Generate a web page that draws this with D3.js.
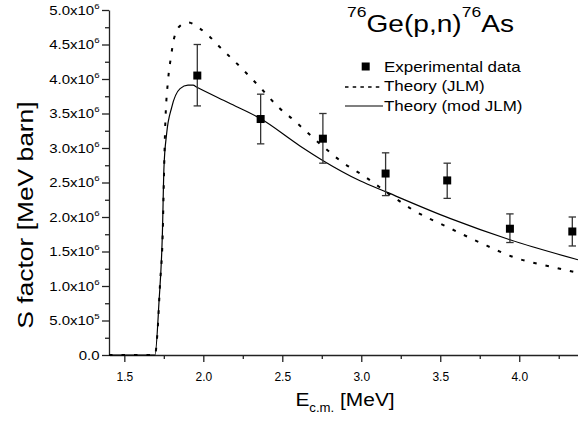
<!DOCTYPE html>
<html>
<head>
  <meta charset="utf-8">
  <title>76Ge(p,n)76As S factor</title>
  <script src="https://d3js.org/d3.v7.min.js"></script>
  <style>
    body { margin: 0; background: #fff; }
    text { font-family: "Liberation Sans", Arial, sans-serif; fill: #000; }
  </style>
</head>
<body>
  <svg id="chart" width="578" height="426"></svg>

  <script>
    // experimental points (E in MeV, S in MeV barn) with error bar ends
    const eExp = [1.962, 2.363, 2.757, 3.154, 3.544, 3.941, 4.336];
    const sExp = [4.05e6, 3.42e6, 3.135e6, 2.63e6, 2.53e6, 1.83e6, 1.79e6];
    const sExpHi = [4.50e6, 3.78e6, 3.50e6, 2.93e6, 2.78e6, 2.045e6, 2.0e6];
    const sExpLo = [3.61e6, 3.06e6, 2.78e6, 2.31e6, 2.27e6, 1.63e6, 1.58e6];

    // Theory (JLM) - dashed
    const eJLM = [1.403, 1.694, 1.709, 1.726, 1.743, 1.751, 1.758, 1.778, 1.794, 1.815, 1.853, 1.905, 1.979,
      2.042, 2.106, 2.169, 2.232, 2.296, 2.359, 2.422, 2.486, 2.559, 2.623, 2.749, 2.876, 3.013, 3.203,
      3.329, 3.541, 3.751, 3.962, 4.237, 4.372];
    const sJLM = [0, 0, 0.30e6, 1.03e6, 1.76e6, 2.6e6, 3.25e6, 4.01e6, 4.30e6, 4.59e6, 4.77e6, 4.82e6, 4.73e6,
      4.61e6, 4.46e6, 4.32e6, 4.18e6, 4.03e6, 3.88e6, 3.72e6, 3.57e6, 3.43e6, 3.30e6, 3.04e6, 2.80e6, 2.60e6, 2.29e6,
      2.10e6, 1.86e6, 1.63e6, 1.42e6, 1.26e6, 1.19e6];

    // Theory (mod JLM) - solid
    const eMod = [1.403, 1.694, 1.720, 1.741, 1.751, 1.768, 1.800, 1.853, 1.903, 1.935, 1.960, 2.160, 2.359,
      2.612, 2.756, 2.992, 3.161, 3.561, 3.941, 4.372];
    const sMod = [0, 0, 0.785e6, 1.76e6, 2.72e6, 3.21e6, 3.59e6, 3.86e6, 3.91e6, 3.91e6, 3.88e6, 3.655e6, 3.43e6,
      3.03e6, 2.82e6, 2.525e6, 2.36e6, 1.98e6, 1.67e6, 1.38e6];

    const xTicks = [1.5, 2.0, 2.5, 3.0, 3.5, 4.0];
    const xMinor = [1.75, 2.25, 2.75, 3.25, 3.75, 4.25];
    const yTicks = [0, 0.5e6, 1.0e6, 1.5e6, 2.0e6, 2.5e6, 3.0e6, 3.5e6, 4.0e6, 4.5e6, 5.0e6];
    const yMinor = [0.25e6, 0.75e6, 1.25e6, 1.75e6, 2.25e6, 2.75e6, 3.25e6, 3.75e6, 4.25e6, 4.75e6];

    const svg = d3.select("#chart");

    const x = d3.scaleLinear().domain([1.403, 4.372]).range([109, 578]);
    const y = d3.scaleLinear().domain([0, 5e6]).range([355, 10]);

    // tick label like 4.5x10^6
    function yLabel(sel) {
      sel.each(function (d) {
        const t = d3.select(this).text("");
        if (d === 0) { t.append("tspan").text("0.0"); return; }
        const exp = d >= 1e6 ? 6 : 5;
        t.append("tspan").text((d / Math.pow(10, exp)).toFixed(1) + "x10");
        t.append("tspan").attr("dy", -6).attr("font-size", 8).text(exp);
      });
    }

    // minor ticks
    svg.append("g")
      .attr("transform", "translate(0,355)")
      .call(d3.axisBottom(x).tickValues(xMinor).tickSize(4).tickFormat(""))
      .call(g => g.select(".domain").remove())
      .selectAll("line").attr("stroke", "#222").attr("stroke-width", 1.2);

    svg.append("g")
      .attr("transform", "translate(109,0)")
      .call(d3.axisLeft(y).tickValues(yMinor).tickSize(4).tickFormat(""))
      .call(g => g.select(".domain").remove())
      .selectAll("line").attr("stroke", "#222").attr("stroke-width", 1.2);

    // main axes
    const xAxis = svg.append("g")
      .attr("transform", "translate(0,355)")
      .call(d3.axisBottom(x).tickValues(xTicks).tickSize(7).tickPadding(10).tickSizeOuter(0)
        .tickFormat(d3.format(".1f")));
    xAxis.selectAll("text").attr("font-size", 12).attr("font-family", null);

    const yAxis = svg.append("g")
      .attr("transform", "translate(109,0)")
      .call(d3.axisLeft(y).tickValues(yTicks).tickSize(7).tickSizeOuter(0));
    yAxis.selectAll("text")
      .attr("font-size", 12.5).attr("font-family", null)
      .attr("x", -9.5 / 1.2)
      .attr("transform", "scale(1.2,1)")
      .call(yLabel);

    svg.selectAll(".domain, .tick line").attr("stroke", "#222").attr("stroke-width", 1.3);

    // curves
    const line = d3.line()
      .x(d => x(d[0]))
      .y(d => y(d[1]))
      .curve(d3.curveMonotoneX);

    svg.append("path")
      .attr("d", line(d3.zip(eJLM, sJLM)))
      .attr("fill", "none")
      .attr("stroke", "#000")
      .attr("stroke-width", 2)
      .attr("stroke-dasharray", "3.5,9");

    svg.append("path")
      .attr("d", line(d3.zip(eMod, sMod)))
      .attr("fill", "none")
      .attr("stroke", "#000")
      .attr("stroke-width", 1.2);

    // experimental data with error bars
    const pts = svg.append("g").selectAll("g")
      .data(d3.range(eExp.length))
      .enter().append("g");

    pts.append("line")
      .attr("x1", i => x(eExp[i])).attr("x2", i => x(eExp[i]))
      .attr("y1", i => y(sExpHi[i])).attr("y2", i => y(sExpLo[i]))
      .attr("stroke", "#333").attr("stroke-width", 1.3);

    [sExpHi, sExpLo].forEach(arr => {
      pts.append("line")
        .attr("x1", i => x(eExp[i]) - 3.7).attr("x2", i => x(eExp[i]) + 3.7)
        .attr("y1", i => y(arr[i])).attr("y2", i => y(arr[i]))
        .attr("stroke", "#333").attr("stroke-width", 1.3);
    });

    pts.append("rect")
      .attr("x", i => x(eExp[i]) - 4)
      .attr("y", i => y(sExp[i]) - 4)
      .attr("width", 8).attr("height", 8)
      .attr("fill", "#000");

    // title
    const title = svg.append("text")
      .attr("transform", "translate(347,32) scale(1.17,1)")
      .attr("font-size", 24);
    title.append("tspan").attr("font-size", 15).attr("dy", -15).text("76");
    title.append("tspan").attr("dy", 15).text("Ge(p,n)");
    title.append("tspan").attr("font-size", 15).attr("dy", -15).text("76");
    title.append("tspan").attr("dy", 15).text("As");

    // legend
    const legend = svg.append("g");
    legend.append("rect")
      .attr("x", 361.7).attr("y", 62.5).attr("width", 8).attr("height", 8).attr("fill", "#000");
    legend.append("line")
      .attr("x1", 345).attr("x2", 382).attr("y1", 87).attr("y2", 87)
      .attr("stroke", "#000").attr("stroke-width", 1.6).attr("stroke-dasharray", "3.5,4.2");
    legend.append("line")
      .attr("x1", 345).attr("x2", 383).attr("y1", 106).attr("y2", 106)
      .attr("stroke", "#000").attr("stroke-width", 1.2);

    const legendLabels = ["Experimental data", "Theory (JLM)", "Theory (mod JLM)"];
    legend.selectAll("text.lab")
      .data(legendLabels)
      .enter().append("text")
      .attr("class", "lab")
      .attr("transform", (d, i) => `translate(384,${72 + i * 19.3}) scale(1.13,1)`)
      .attr("font-size", 15)
      .text(d => d);

    // axis titles
    svg.append("text")
      .attr("transform", "translate(33,215) rotate(-90) scale(1.2,1)")
      .attr("text-anchor", "middle")
      .attr("font-size", 22)
      .text("S factor [MeV barn]");

    const xt = svg.append("text")
      .attr("transform", "translate(345,406) scale(1.1,1)")
      .attr("text-anchor", "middle")
      .attr("font-size", 19);
    xt.append("tspan").text("E");
    xt.append("tspan").attr("font-size", 12).attr("dy", 6).text("c.m.");
    xt.append("tspan").attr("dy", -6).text(" [MeV]");
  </script>
</body>
</html>
